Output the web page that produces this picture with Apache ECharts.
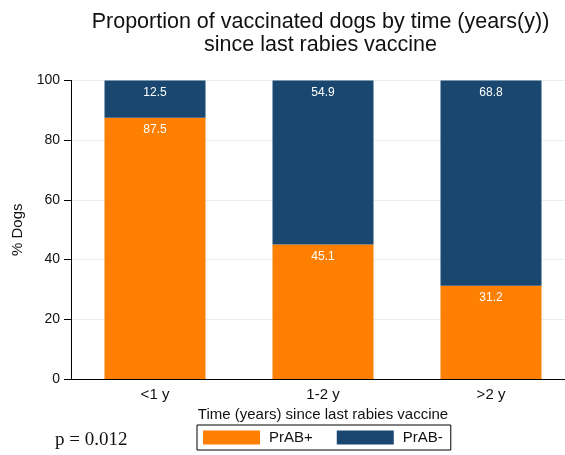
<!DOCTYPE html>
<html><head><meta charset="utf-8">
<script src="https://cdn.jsdelivr.net/npm/echarts@6/dist/echarts.min.js"></script>
<style>html,body{margin:0;padding:0;background:#fff}#c{width:565px;height:455px}</style>
</head><body><div id="c"></div>
<script>
const categories = ['<1 y', '1-2 y', '>2 y'];
const prabPos = [87.5, 45.1, 31.2];
const prabNeg = [12.5, 54.9, 68.8];
const yTicks = [0, 20, 40, 60, 80, 100];
const font = 'Liberation Sans, Arial, sans-serif';
const chart = echarts.init(document.getElementById('c'));
const lbl = {show: true, position: 'insideTop', distance: 6, color: '#fff', fontSize: 12, fontFamily: font};
chart.setOption({
  animation: false,
  title: {text: 'Proportion of vaccinated dogs by time (years(y))\nsince last rabies vaccine', left: 315.5, top: 6, textAlign: 'center',
    textStyle: {fontFamily: font, fontWeight: 'normal', fontSize: 21.5, color: '#111', lineHeight: 23}},
  grid: {left: 71, top: 80.5, width: 504, height: 298.5, outerBoundsMode: 'none', containLabel: false},
  xAxis: {type: 'category', data: categories,
    axisLine: {lineStyle: {color: '#000', width: 1}}, axisTick: {show: false},
    axisLabel: {color: '#111', fontSize: 15, fontFamily: font, margin: 8},
    name: 'Time (years) since last rabies vaccine', nameLocation: 'middle', nameGap: 26,
    nameTextStyle: {color: '#111', fontSize: 15, fontFamily: font}},
  yAxis: {type: 'value', min: 0, max: 100, interval: 20,
    axisLine: {show: true, lineStyle: {color: '#000'}}, axisTick: {show: true, length: 7, lineStyle: {color: '#000'}},
    axisLabel: {color: '#111', fontSize: 14, fontFamily: font, margin: 11,
      formatter: v => yTicks.includes(v) ? String(v) : ''},
    splitLine: {lineStyle: {color: '#E4EEF0', width: 1}},
    name: '% Dogs', nameLocation: 'middle', nameGap: 45, nameRotate: 90,
    nameTextStyle: {color: '#111', fontSize: 15, fontFamily: font}},
  legend: {data: ['PrAB+', 'PrAB-'], left: 197, top: 425, itemWidth: 57, itemHeight: 14, itemGap: 24,
    borderColor: '#000', borderWidth: 1, borderRadius: 0, padding: [5, 8, 5, 6],
    textStyle: {color: '#111', fontSize: 15, fontFamily: font, padding: [0, 0, 0, 4]},
    icon: 'rect'},
  series: [
    {name: 'PrAB+', type: 'bar', stack: 's', data: prabPos, barWidth: 101, itemStyle: {color: '#FF7F00'}, label: lbl},
    {name: 'PrAB-', type: 'bar', stack: 's', data: prabNeg, barWidth: 101, itemStyle: {color: '#1A476F'}, label: lbl}
  ],
  graphic: [{type: 'text', left: 55, top: 431, style: {text: 'p = 0.012', fontFamily: 'Liberation Serif, Times New Roman, serif', fontSize: 19, fill: '#111'}}]
});
</script></body></html>
